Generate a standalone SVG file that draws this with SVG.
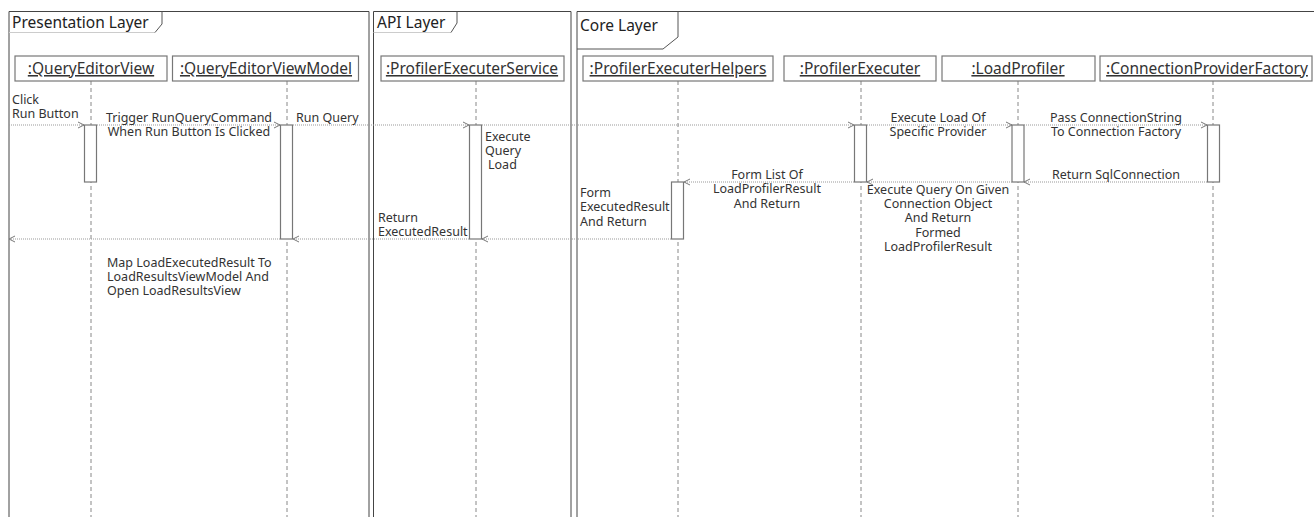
<svg xmlns="http://www.w3.org/2000/svg" width="1314" height="517" viewBox="0 0 1314 517">
  <style>
    .frame { fill: none; stroke: #444; stroke-width: 1; }
    .tab { fill: none; stroke: #555; stroke-width: 1; }
    .tabline { fill: none; stroke: #ccc; stroke-width: 1; }
    .ftitle { font-family: "Noto Sans", "Open Sans", sans-serif; font-size: 15.5px; fill: #222; }
    .head { fill: #fff; stroke: #777; stroke-width: 1.2; }
    .hlabel { font-family: "Noto Sans", "Open Sans", sans-serif; font-size: 15.5px; fill: #333; text-anchor: middle; text-decoration: underline; }
    .life { stroke: #888; stroke-width: 1; stroke-dasharray: 4 3; }
    .act { fill: #fff; stroke: #777; stroke-width: 1.2; }
    .msg { stroke: #999; stroke-width: 1; stroke-dasharray: 1 1; fill: none; }
    .lbl { font-family: "Noto Sans", "Open Sans", sans-serif; font-size: 12.5px; fill: #333; }
    .mid { text-anchor: middle; }
  </style>
  <defs>
    <marker id="open" markerWidth="8" markerHeight="8" refX="6" refY="4" orient="auto" markerUnits="userSpaceOnUse">
      <path d="M0,1 L6,4 L0,7" fill="none" stroke="#777" stroke-width="1"/>
    </marker>
  </defs>

  <rect width="1314" height="517" fill="#fff"/>

  <!-- Layer frames -->
  <g id="frame-presentation">
    <path class="frame" d="M9,517 V11.5 H369 V517"/>
    <path class="tabline" d="M9,32.5 H155"/>
    <path class="tab" d="M162,11.5 V24 L155,32.5"/>
    <text class="ftitle" x="12" y="27.5">Presentation Layer</text>
  </g>
  <g id="frame-api">
    <path class="frame" d="M373.5,517 V11.5 H571 V517"/>
    <path class="tabline" d="M373.5,32.5 H451"/>
    <path class="tab" d="M457,11.5 V23 L451,32.5"/>
    <text class="ftitle" x="377" y="27.5">API Layer</text>
  </g>
  <g id="frame-core">
    <path class="frame" d="M577,517 V11.5 H1314"/>
    <path class="tab" d="M577,49 H663 L678,37 V11.5"/>
    <text class="ftitle" x="580" y="30.5">Core Layer</text>
  </g>

  <!-- Lifelines -->
  <g id="lifelines">
    <line class="life" x1="91" y1="81" x2="91" y2="517"/>
    <line class="life" x1="287" y1="81" x2="287" y2="517"/>
    <line class="life" x1="476" y1="81" x2="476" y2="517"/>
    <line class="life" x1="678" y1="81" x2="678" y2="517"/>
    <line class="life" x1="861" y1="81" x2="861" y2="517"/>
    <line class="life" x1="1018" y1="81" x2="1018" y2="517"/>
    <line class="life" x1="1213" y1="81" x2="1213" y2="517"/>
  </g>

  <!-- Participants -->
  <g id="queryEditorView">
    <rect class="head" x="15" y="56" width="152" height="25"/>
    <text class="hlabel" x="91" y="74">:QueryEditorView</text>
    <rect class="act" x="84.5" y="125" width="12" height="57"/>
  </g>
  <g id="queryEditorViewModel">
    <rect class="head" x="172.5" y="56" width="186" height="25"/>
    <text class="hlabel" x="266" y="74">:QueryEditorViewModel</text>
    <rect class="act" x="280.5" y="125" width="12" height="114"/>
  </g>
  <g id="profilerExecuterService">
    <rect class="head" x="381" y="56" width="183" height="25"/>
    <text class="hlabel" x="472" y="74">:ProfilerExecuterService</text>
    <rect class="act" x="469.5" y="125" width="12" height="114"/>
  </g>
  <g id="profilerExecuterHelpers">
    <rect class="head" x="583" y="56" width="190" height="25"/>
    <text class="hlabel" x="678" y="74">:ProfilerExecuterHelpers</text>
    <rect class="act" x="671.5" y="182" width="12" height="57"/>
  </g>
  <g id="profilerExecuter">
    <rect class="head" x="784" y="56" width="152" height="25"/>
    <text class="hlabel" x="860" y="74">:ProfilerExecuter</text>
    <rect class="act" x="854.5" y="125" width="12" height="57"/>
  </g>
  <g id="loadProfiler">
    <rect class="head" x="942" y="56" width="153" height="25"/>
    <text class="hlabel" x="1018" y="74">:LoadProfiler</text>
    <rect class="act" x="1012" y="125" width="12" height="57"/>
  </g>
  <g id="connectionProviderFactory">
    <rect class="head" x="1100" y="56" width="212" height="25"/>
    <text class="hlabel" x="1207" y="74">:ConnectionProviderFactory</text>
    <rect class="act" x="1207.5" y="125" width="12" height="57"/>
  </g>

  <!-- Messages -->
  <g id="connectors">
    <line class="msg" x1="9" y1="125" x2="84" y2="125" marker-end="url(#open)"/>
    <line class="msg" x1="97" y1="125" x2="280" y2="125" marker-end="url(#open)"/>
    <line class="msg" x1="293" y1="125" x2="469" y2="125" marker-end="url(#open)"/>
    <line class="msg" x1="482" y1="125" x2="854" y2="125" marker-end="url(#open)"/>
    <line class="msg" x1="867" y1="125" x2="1012" y2="125" marker-end="url(#open)"/>
    <line class="msg" x1="1024" y1="125" x2="1207" y2="125" marker-end="url(#open)"/>

    <line class="msg" x1="1207" y1="182" x2="1024" y2="182" marker-end="url(#open)"/>
    <line class="msg" x1="1012" y1="182" x2="867" y2="182" marker-end="url(#open)"/>
    <line class="msg" x1="854" y1="182" x2="684" y2="182" marker-end="url(#open)"/>

    <line class="msg" x1="671" y1="239" x2="482" y2="239" marker-end="url(#open)"/>
    <line class="msg" x1="469" y1="239" x2="293" y2="239" marker-end="url(#open)"/>
    <line class="msg" x1="280" y1="239" x2="9" y2="239" marker-end="url(#open)"/>
  </g>

  <!-- Message labels -->
  <g id="labels">
    <text class="lbl" x="12" y="104">Click</text>
    <text class="lbl" x="12" y="118">Run Button</text>

    <text class="lbl mid" x="189" y="122">Trigger RunQueryCommand</text>
    <text class="lbl mid" x="189" y="136">When Run Button Is Clicked</text>

    <text class="lbl" x="296" y="122">Run Query</text>

    <text class="lbl" x="485" y="141">Execute</text>
    <text class="lbl" x="485" y="155">Query</text>
    <text class="lbl" x="488" y="169">Load</text>

    <text class="lbl mid" x="938" y="122">Execute Load Of</text>
    <text class="lbl mid" x="938" y="136">Specific Provider</text>

    <text class="lbl mid" x="1116" y="122">Pass ConnectionString</text>
    <text class="lbl mid" x="1116" y="136">To Connection Factory</text>

    <text class="lbl mid" x="1116" y="179">Return SqlConnection</text>

    <text class="lbl mid" x="938" y="194">Execute Query On Given</text>
    <text class="lbl mid" x="938" y="208">Connection Object</text>
    <text class="lbl mid" x="938" y="222">And Return</text>
    <text class="lbl mid" x="938" y="237">Formed</text>
    <text class="lbl mid" x="938" y="251">LoadProfilerResult</text>

    <text class="lbl mid" x="767" y="179">Form List Of</text>
    <text class="lbl mid" x="767" y="193">LoadProfilerResult</text>
    <text class="lbl mid" x="767" y="208">And Return</text>

    <text class="lbl" x="580" y="197">Form</text>
    <text class="lbl" x="580" y="211">ExecutedResult</text>
    <text class="lbl" x="580" y="226">And Return</text>

    <text class="lbl" x="378" y="222">Return</text>
    <text class="lbl" x="378" y="236">ExecutedResult</text>

    <text class="lbl" x="107" y="267">Map LoadExecutedResult To</text>
    <text class="lbl" x="107" y="281">LoadResultsViewModel And</text>
    <text class="lbl" x="107" y="295">Open LoadResultsView</text>
  </g>
</svg>
